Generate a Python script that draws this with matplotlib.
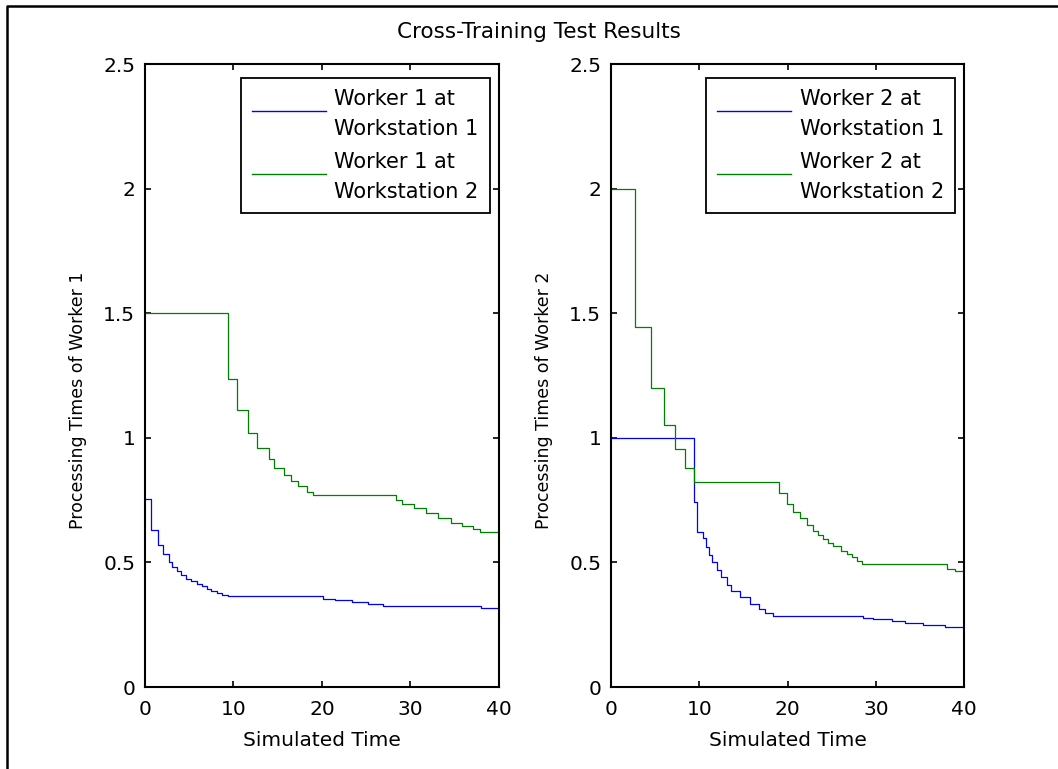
"""Cross-training test results: processing times of both workers."""

import matplotlib
matplotlib.use('Agg')
import matplotlib.pyplot as plt
from matplotlib.legend_handler import HandlerLine2D
from matplotlib.lines import Line2D

# Worker 1 at workstation 1 (left panel, blue)
w1_ws1_time = [0, 0.64, 1.43, 2.07, 2.67, 3.09, 3.58, 4.1, 4.6, 5.2, 5.84,
               6.4, 6.97, 7.5, 8.1, 8.7, 9.4, 20.15, 21.47, 23.35, 25.2,
               26.9, 38.0, 40]
w1_ws1_value = [0.755, 0.629, 0.571, 0.532, 0.503, 0.481, 0.465, 0.448,
                0.435, 0.425, 0.415, 0.405, 0.395, 0.386, 0.377, 0.37, 0.364,
                0.355, 0.348, 0.341, 0.333, 0.325, 0.317, 0.317]

# Worker 1 at workstation 2 (left panel, green)
w1_ws2_time = [0, 9.4, 10.4, 11.67, 12.7, 14.0, 14.6, 15.7, 16.5, 17.3, 18.3,
               19.0, 28.35, 29.0, 30.4, 31.75, 33.07, 34.6, 35.8, 37.1, 37.85,
               40]
w1_ws2_value = [1.5, 1.235, 1.11, 1.021, 0.961, 0.917, 0.88, 0.852, 0.828,
                0.807, 0.784, 0.769, 0.751, 0.733, 0.717, 0.699, 0.677, 0.659,
                0.646, 0.633, 0.621, 0.621]

# Worker 2 at workstation 1 (right panel, blue)
w2_ws1_time = [0, 9.4, 9.8, 10.45, 10.8, 11.1, 11.47, 12.0, 12.5, 13.1, 13.6,
               14.6, 15.7, 16.8, 17.5, 18.3, 28.5, 29.7, 31.8, 33.3, 35.3,
               37.8, 40]
w2_ws1_value = [1.0, 0.741, 0.621, 0.6, 0.56, 0.53, 0.503, 0.47, 0.443, 0.41,
                0.384, 0.36, 0.333, 0.313, 0.298, 0.286, 0.279, 0.273, 0.266,
                0.257, 0.249, 0.242, 0.242]

# Worker 2 at workstation 2 (right panel, green)
w2_ws2_time = [0, 2.72, 4.57, 6.04, 7.28, 8.34, 9.37, 19.03, 19.9, 20.65,
               21.4, 22.2, 22.9, 23.5, 24.05, 24.6, 25.2, 26.1, 26.7, 27.3,
               27.9, 28.4, 38.1, 39.0, 40]
w2_ws2_value = [2.0, 1.446, 1.2, 1.052, 0.956, 0.881, 0.822, 0.778, 0.735,
                0.704, 0.677, 0.65, 0.628, 0.61, 0.594, 0.58, 0.567, 0.545,
                0.532, 0.52, 0.507, 0.495, 0.475, 0.465, 0.458]

x_ticks = [0, 10, 20, 30, 40]
y_ticks = [0, 0.5, 1, 1.5, 2, 2.5]
y_tick_labels = ['0', '0.5', '1', '1.5', '2', '2.5']

title = 'Cross-Training Test Results'
x_label = 'Simulated Time'

plt.rcParams['font.family'] = 'DejaVu Sans'

color_ws1 = (0., 0., 1.)
color_ws2 = (0., 0.5, 0.)


class RaisedLine(HandlerLine2D):
    """Legend line sitting a bit above the middle of a two-line label."""

    def create_artists(self, legend, orig_handle, xdescent, ydescent,
                       width, height, fontsize, trans):
        return super().create_artists(legend, orig_handle, xdescent,
                                      ydescent - 6, width, height, fontsize,
                                      trans)


def panel(ax, t1, v1, t2, v2, worker):
    """Draw one MATLAB-like panel for a single worker."""
    ax.step(t1, v1, where='post', color=color_ws1, lw=0.9,
            label='Worker {} at\nWorkstation 1'.format(worker))
    ax.step(t2, v2, where='post', color=color_ws2, lw=0.9,
            label='Worker {} at\nWorkstation 2'.format(worker))
    ax.set_xlim(0, 40)
    ax.set_ylim(0, 2.5)
    ax.set_xticks(x_ticks)
    ax.set_yticks(y_ticks)
    ax.set_yticklabels(y_tick_labels)
    ax.tick_params(direction='in', length=4, width=1.2, top=True,
                   right=True, labelsize=14.5, colors='black')
    ax.tick_params(axis='x', pad=9)
    ax.tick_params(axis='y', pad=7)
    for spine in ax.spines.values():
        spine.set_linewidth(1.5)
    ax.set_xlabel(x_label, fontsize=14.5, labelpad=9)
    ax.set_ylabel('Processing Times of Worker {}'.format(worker),
                  fontsize=12.5)
    ax.yaxis.set_label_coords(-0.163, 0.46)

    leg = ax.legend(loc='upper right', bbox_to_anchor=(0.975, 0.978),
                    fontsize=15, fancybox=False, framealpha=1,
                    edgecolor='black', handlelength=3.55, handletextpad=0.4,
                    borderpad=0.55, labelspacing=0.65, borderaxespad=0.,
                    handler_map={Line2D: RaisedLine()})
    leg.get_frame().set_linewidth(1.3)
    for txt in leg.get_texts():
        txt.set_linespacing(1.6)
    for line in leg.get_lines():
        line.set_linewidth(1.0)


fig = plt.figure(figsize=(10.58, 7.69), dpi=100)
ax_left = fig.add_axes([0.137, 0.1066, 0.3346, 0.810])
ax_right = fig.add_axes([0.5775, 0.1066, 0.3337, 0.810])

panel(ax_left, w1_ws1_time, w1_ws1_value, w1_ws2_time, w1_ws2_value, 1)
panel(ax_right, w2_ws1_time, w2_ws1_value, w2_ws2_time, w2_ws2_value, 2)

fig.text(0.509, 0.959, title, ha='center', va='center', fontsize=15.5)

# outer frame, only the top and left edges are visible
fig.add_artist(Line2D([6.7 / 1058, 6.7 / 1058, 1.0],
                      [0.0, 1 - 5.7 / 769, 1 - 5.7 / 769],
                      transform=fig.transFigure, color='black', lw=1.8))

fig.savefig('out.png', dpi=100)
